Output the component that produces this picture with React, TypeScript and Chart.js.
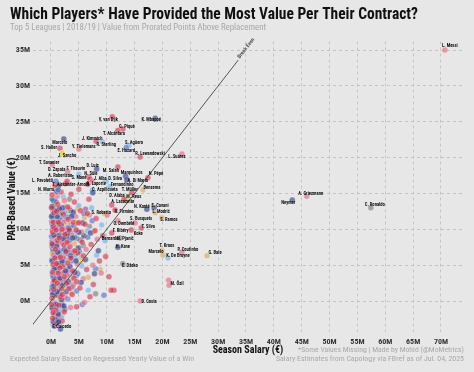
import React, { useEffect, useRef } from "react";
import { Chart, registerables } from "chart.js";
Chart.register(...registerables);

const TITLE = "Which Players* Have Provided the Most Value Per Their Contract?";
const SUBTITLE = "Top 5 Leagues | 2018/19 | Value from Prorated Points Above Replacement";
const X_TITLE = "Season Salary (€)";
const Y_TITLE = "PAR-Based Value (€)";
const FOOT_LEFT = "Expected Salary Based on Regressed Yearly Value of a Win";
const FOOT_RIGHT_1 = "*Some Values Missing | Made by Mohid (@MoMetrics)";
const FOOT_RIGHT_2 = "Salary Estimates from Capology via FBref as of Jul. 04, 2025";
const BREAK_EVEN_LABEL = "Break Even";

const xTickValues = [0, 5, 10, 15, 20, 25, 30, 35, 40, 45, 50, 55, 60, 65, 70];
const yTickValues = [0, 5, 10, 15, 20, 25, 30, 35];
const breakEvenSalary = [-3.4, 33.6];
const breakEvenValue = [-3.4, 33.6];

// Labelled players: salary (M€), PAR-based value (M€), team colour group
const playerNames = [
  "L. Messi", "A. Griezmann", "Neymar", "C. Ronaldo", "K. Mbappé", "V. van Dijk", "G. Piqué", "T. Alcántara",
  "J. Kimmich", "R. Sterling", "Y. Tielemans", "Marcelo", "S. Haller", "J. Sancho", "S. Agüero", "E. Hazard",
  "R. Lewandowski", "L. Suárez", "T. Savanier", "D. Zapata", "F. Thauvin", "D. Luiz", "N. Süle", "M. Salah",
  "Marquinhos", "A. Di María", "N. Pépé", "T. Alexander-Arnold", "A. Robertson", "L. Pavoletti", "S. Mané", "J. Alba",
  "D. Silva", "Fernandinho", "A. Laporte", "C. Azpilicueta", "N. Murru", "Benzema", "T. Müller", "M. Reus",
  "D. Alaba", "A. Lacazette", "N. Kanté", "E. Cavani", "L. Modrić", "S. Ramos", "S. Roberto", "R. Firmino",
  "S. Busquets", "O. Dembélé", "T. Silva", "Koke", "F. Ribéry", "Bernardo", "M. Pjanić", "H. Kane",
  "T. Kroos", "Marcelo", "P. Coutinho", "K. De Bruyne", "G. Bale", "E. Džeko", "M. Özil", "D. Costa",
  "F. Caicedo",
];
const playerSalary = [
  70.7, 45.9, 43.3, 57.4, 18.7, 11.0, 12.9, 12.0,
  8.1, 9.2, 5.0, 2.3, 1.6, 2.0, 14.0, 13.5,
  16.0, 23.5, 0.2, 3.0, 5.0, 8.2, 6.8, 12.0,
  13.4, 13.6, 17.4, 6.6, 2.9, 0.9, 7.0, 7.4,
  9.9, 10.6, 7.4, 7.5, 1.3, 16.5, 14.5, 13.6,
  13.1, 10.9, 17.2, 18.5, 18.7, 19.9, 10.1, 11.5,
  15.1, 12.0, 16.2, 14.4, 10.9, 9.7, 12.4, 12.0,
  19.9, 20.1, 23.5, 21.0, 28.0, 12.9, 21.2, 16.0,
  1.4,
];
const playerValue = [
  35.0, 14.6, 14.1, 13.0, 25.5, 25.7, 24.0, 23.8,
  22.3, 22.2, 21.2, 22.6, 21.3, 20.6, 21.7, 21.4,
  20.1, 20.5, 19.0, 18.0, 17.7, 18.4, 17.3, 18.7,
  17.4, 16.9, 17.2, 16.3, 16.7, 16.7, 17.0, 16.7,
  16.7, 16.0, 15.5, 15.1, 15.5, 15.5, 15.1, 14.2,
  14.2, 13.4, 12.8, 13.0, 12.3, 11.6, 12.0, 12.7,
  10.9, 11.2, 10.2, 9.9, 9.5, 8.4, 8.8, 7.5,
  7.0, 6.4, 6.8, 6.0, 6.3, 5.2, 2.2, 0.0,
  -2.9,
];
const playerGroup = [
  "pink", "pink", "slate", "gray", "slate", "red", "red", "red",
  "red", "sky", "pink", "navy", "red", "yellow", "sky", "blue",
  "red", "pink", "pink", "pink", "sky", "navy", "red", "red",
  "navy", "navy", "red", "red", "red", "blue", "red", "pink",
  "sky", "sky", "sky", "navy", "blue", "gold", "red", "yellow",
  "red", "red", "navy", "navy", "gold", "gold", "pink", "red",
  "pink", "pink", "red", "red", "red", "sky", "gray", "navy",
  "gold", "gold", "pink", "sky", "gold", "gray", "pink", "pink",
  "navy",
];

// Unlabelled players, [salary, value] in M€, grouped by team colour
const redCloud = [
  [0.2, 14.8], [0.5, 12.3], [0.3, 9.6], [0.8, 7.2], [0.4, 5.1], [0.6, 2.8], [0.2, 0.4], [0.9, -1.2], [0.3, -2.4],
  [1.2, 13.5], [1.5, 10.8], [1.1, 8.4], [1.7, 6.1], [1.3, 3.9], [1.9, 1.7], [1.4, -0.6], [2.2, 12.1], [2.5, 9.3],
  [2.1, 4.8], [2.8, 2.5], [2.4, -1.5], [3.1, 11.4], [3.4, 7.6], [3.0, 5.3], [3.8, 0.9], [4.2, 13.8], [4.5, 9.9],
  [4.1, 3.2], [4.8, 6.7], [5.3, 12.6], [5.6, 8.2], [5.2, 1.8], [6.1, 10.7], [6.4, 4.4], [6.8, 14.2], [7.2, 7.9],
  [7.6, 2.3], [8.1, 11.5], [8.7, 5.6], [9.3, 9.1], [9.8, 6.2], [10.4, 3.4], [0.7, 16.1], [1.8, 15.2], [2.6, 16.4],
  [3.6, 14.9], [5.0, 15.6], [11.3, 1.5], [10.8, 1.5], [7.0, 0.6], [4.6, -0.8], [2.0, -2.8], [1.0, -3.2],
  [0.1, 13.0], [0.4, 11.0], [0.6, 10.1], [0.2, 8.0], [0.7, 6.0], [0.3, 4.0], [0.5, 1.6], [0.1, -0.5], [0.4, -1.6],
  [1.0, 12.5], [1.3, 11.0], [0.9, 9.9], [1.5, 8.8], [1.0, 5.2], [1.6, 4.6], [1.1, 2.5], [1.7, 0.6], [2.0, 10.0],
  [2.3, 7.8], [2.7, 6.9], [2.4, 3.4], [2.0, 0.9], [3.0, 13.1], [3.3, 9.9], [2.9, 8.2], [3.6, 6.0], [3.2, 1.7],
  [3.9, 4.2], [4.3, 7.0], [4.0, 11.0], [4.9, 10.9], [4.6, 2.7], [5.8, 6.3], [6.5, 12.2], [7.9, 9.8],
];
const pinkCloud = [
  [0.1, 11.1], [0.6, 8.9], [0.4, 6.4], [0.9, 3.5], [0.3, 1.2], [0.7, -0.4], [1.3, 12.7], [1.6, 9.8], [1.2, 7.5],
  [1.8, 4.9], [1.5, 2.2], [2.3, 11.0], [2.7, 8.1], [2.2, 6.0], [2.9, 3.6], [2.6, 0.5], [3.3, 12.9], [3.7, 9.2],
  [3.2, 4.3], [3.9, 2.0], [4.4, 11.8], [4.7, 5.2], [5.5, 9.6], [5.8, 3.1], [6.3, 7.2], [6.9, 12.0], [7.5, 5.0],
  [8.3, 8.6], [9.0, 3.9], [1.1, 14.6], [2.4, 14.0], [0.5, -1.9], [3.5, -0.9], [6.0, -0.2], [21.1, 2.9],
  [0.2, 9.9], [0.5, 7.6], [0.8, 5.4], [0.4, 2.6], [1.0, 10.5], [1.4, 6.1], [1.9, 8.2], [1.7, 2.9], [2.5, 10.0],
  [2.1, 3.9], [3.0, 9.9], [3.4, 5.9], [4.0, 6.9], [4.2, 3.9], [5.1, 11.0], [0.2, -1.1], [1.2, -2.0],
];
const navyCloud = [
  [0.2, 13.2], [0.4, 10.4], [0.3, 7.8], [0.7, 4.6], [0.5, 2.1], [0.2, -0.9], [0.8, -2.6], [1.1, 11.8], [1.4, 9.1],
  [1.2, 6.8], [1.6, 3.2], [1.9, 0.2], [1.3, -1.8], [2.1, 13.0], [2.4, 7.2], [2.0, 5.5], [2.7, 1.3], [2.3, -0.7],
  [3.2, 10.1], [3.5, 6.3], [3.1, 2.7], [3.9, 8.8], [4.3, 4.0], [4.0, 12.4], [4.9, 7.4], [5.4, 2.6], [5.7, 10.9],
  [6.2, 5.8], [7.1, 9.5], [7.8, 3.8], [8.5, 7.0], [1.0, 15.3], [0.6, -3.5], [1.7, -3.9],
  [0.1, 11.8], [0.5, 9.2], [0.2, 5.6], [0.6, 3.0], [0.3, 0.9], [0.9, -0.5], [0.7, 12.6], [1.0, 7.7], [1.4, 5.0],
  [1.1, 1.3], [1.8, 10.6], [1.5, 12.9], [2.2, 8.7], [2.6, 4.2], [2.1, 2.2], [2.9, 9.4], [3.4, 4.8], [3.7, 11.8],
  [4.5, 5.6], [5.0, 9.6], [0.4, -2.9], [1.2, -3.0],
];
const blueCloud = [
  [0.3, 12.0], [0.1, 9.0], [0.6, 6.0], [0.4, 3.3], [0.8, 0.8], [0.5, -1.5], [1.2, 10.2], [1.5, 7.0], [1.1, 4.2],
  [1.7, 1.0], [2.0, 9.6], [2.3, 3.0], [2.6, 6.6], [2.9, 11.7], [3.3, 8.4], [3.0, 0.3], [3.7, 5.6], [4.1, 10.5],
  [4.6, 1.4], [5.1, 6.9], [5.9, 12.2], [6.6, 8.9], [7.4, 11.2], [8.0, 4.5], [1.4, -2.2], [2.5, -1.1], [0.9, 13.9],
  [5.6, -0.5], [9.5, 0.8],
  [0.2, 14.2], [0.7, 11.0], [0.3, 7.3], [0.9, 5.4], [0.5, 4.5], [0.2, 2.0], [1.3, 8.3], [1.0, 3.0], [1.8, 5.5],
  [1.6, 11.5], [2.2, 6.0], [2.8, 3.9], [3.1, 7.0], [3.6, 1.8], [4.3, 8.9], [4.8, 3.8], [0.6, -2.6], [2.0, -0.6],
];
const skyCloud = [
  [0.4, 11.5], [0.2, 4.0], [0.9, 9.4], [1.3, 1.6], [1.8, 8.0], [2.1, 2.7], [2.8, 10.3], [3.4, 3.7], [3.8, 12.0],
  [4.4, 6.0], [5.0, 13.3], [5.5, 4.9], [6.5, 9.8], [7.3, 13.0], [8.2, 6.4], [9.1, 10.6], [0.7, -0.2], [1.6, -1.3],
  [2.2, 14.5], [6.7, 1.5],
  [0.5, 7.9], [0.1, 5.8], [1.1, 6.8], [1.5, 10.3], [2.4, 5.1], [2.6, 12.3], [3.0, 7.3], [4.1, 9.5], [0.3, 1.0],
  [1.9, -2.3],
];
const goldCloud = [
  [0.3, 10.0], [0.6, 4.3], [1.0, 12.0], [1.4, 5.4], [1.8, 11.2], [2.3, 1.9], [2.7, 13.2], [3.2, 6.4], [3.6, 1.1],
  [4.2, 8.0], [4.8, 12.9], [5.4, 6.1], [6.0, 11.6], [6.7, 3.3], [7.7, 9.7], [8.8, 4.4], [0.5, 0.0], [2.0, -1.9],
  [9.6, 12.2],
  [0.1, 7.6], [0.8, 2.3], [1.2, 9.1], [1.6, 0.2], [2.5, 5.8], [3.0, 10.8], [3.9, 3.0], [4.6, 9.9],
];
const grayCloud = [
  [0.2, 8.3], [0.5, 5.7], [0.9, 1.9], [1.2, 10.7], [1.7, 6.5], [2.4, 12.5], [2.9, 4.7], [3.5, 9.7], [4.0, 2.3],
  [4.7, 8.7], [5.8, 7.7], [6.9, 10.4], [8.0, 1.0], [1.0, -1.0], [3.3, 14.2],
  [0.6, 12.9], [0.3, -0.2], [1.4, 3.1], [2.2, -1.3], [3.8, 6.8],
];
const purpleCloud = [
  [0.4, 7.0], [0.8, 11.7], [1.5, 3.8], [2.1, 8.9], [2.8, 5.9], [3.6, 10.6], [4.4, 3.5], [5.3, 8.5], [6.2, 12.8],
  [1.9, -0.3], [0.2, 10.8], [1.0, 0.8], [2.4, 11.4], [3.2, 2.1],
];
const darkCloud = [
  [0.3, 3.7], [0.7, 9.8], [1.1, 6.3], [1.9, 12.3], [2.5, 4.0], [3.0, 8.9], [4.3, 6.6], [0.6, -2.0], [5.9, 9.1],
  [1.3, 16.0], [0.5, 14.0], [1.6, 2.5], [2.8, 7.0], [0.2, 1.5], [3.5, 12.6],
];
const yellowCloud = [
  [0.2, 6.7], [0.6, 13.6], [1.4, 8.7], [2.2, 10.4], [3.1, 3.0], [4.5, 11.0], [0.9, 0.5], [5.7, 5.5],
];

// ---- styling (kept separate from data) ----
const PALETTE: Record<string, string> = {
  red: "rgba(206,52,78,0.62)",
  pink: "rgba(224,110,134,0.66)",
  navy: "rgba(42,58,135,0.62)",
  blue: "rgba(82,116,195,0.64)",
  sky: "rgba(128,185,235,0.72)",
  gold: "rgba(216,178,112,0.75)",
  gray: "rgba(128,128,128,0.66)",
  slate: "rgba(98,114,160,0.85)",
  purple: "rgba(122,78,155,0.62)",
  dark: "rgba(40,40,50,0.62)",
  yellow: "rgba(236,206,60,0.85)",
};
// label centre offsets in px relative to the point, with optional alignment
const labelPlacement: [number, number, CanvasTextAlign?][] = [
  [5, -4], [4, -3], [-4, 3], [4, -3], [-4, 2], [-4, 3], [4, -2], [-4, 3],
  [-4, -2], [4, 3], [5, -2], [-4, 4], [-3, 0, "right"], [5, 3], [5, -3], [0, 3],
  [10, -3], [-5, 3], [-3, -2], [-11, -2], [-3, -5], [-4, -3], [2, -3], [-7, 4],
  [6, -3], [11, 1], [8, -4], [-17, 1], [-7, -5], [-3, 0, "right"], [-11, -1], [8, -2],
  [9, -2], [12, -1], [4, -6], [12, -3], [-4, 0, "right"], [9, -2], [-2, -3], [7, -2],
  [-7, -3], [11, -3], [-5, -2], [6, -2], [6, -1], [7, 2], [-6, -2], [9, 2],
  [6, -4], [6, 3], [7, -1], [7, 4], [9, -2], [5, -2], [5, 1], [5, 0],
  [5, -5], [-7, -3], [6, -2], [10, -2], [8, -3], [7, 2], [8, -1], [9, 1],
  [3, 5],
];

const COND = "'Liberation Sans Narrow', 'Roboto Condensed', 'DejaVu Sans Condensed', 'Roboto', sans-serif";
const BG = "#e7e7e7";

const toPts = (arr: number[][]) => arr.map(([x, y]) => ({ x, y }));

export default function App() {
  const ref = useRef<HTMLCanvasElement | null>(null);
  useEffect(() => {
    document.body.style.margin = "0";
    document.body.style.background = BG;
    const canvas = ref.current!;
    const clouds: [number[][], string][] = [
      [redCloud, "red"], [navyCloud, "navy"], [pinkCloud, "pink"], [blueCloud, "blue"], [skyCloud, "sky"],
      [goldCloud, "gold"], [grayCloud, "gray"], [purpleCloud, "purple"], [darkCloud, "dark"], [yellowCloud, "yellow"],
    ];
    const pointStyle = {
      pointRadius: 3,
      pointBorderWidth: 0.6,
      pointBorderColor: "rgba(255,255,255,0.5)",
    };
    const datasets: any[] = [
      {
        type: "line",
        data: breakEvenSalary.map((x, i) => ({ x, y: breakEvenValue[i] })),
        borderColor: "#555",
        borderWidth: 1,
        pointRadius: 0,
        showLine: true,
        fill: false,
      },
      {
        data: playerNames.map((_, i) => ({ x: playerSalary[i], y: playerValue[i] })),
        pointBackgroundColor: playerGroup.map((g) => PALETTE[g]),
        ...pointStyle,
      },
      ...clouds.map(([arr, g]) => ({
        data: toPts(arr),
        pointBackgroundColor: PALETTE[g],
        ...pointStyle,
      })),
    ];

    const bgPlugin = {
      id: "bg",
      beforeDraw(chart: any) {
        const c = chart.ctx;
        c.save();
        c.fillStyle = BG;
        c.fillRect(0, 0, chart.width, chart.height);
        c.restore();
      },
    };
    const labelPlugin = {
      id: "labels",
      afterDatasetsDraw(chart: any) {
        const c = chart.ctx;
        const xs = chart.scales.x;
        const ys = chart.scales.y;
        c.save();
        c.fillStyle = "#111";
        c.font = `bold 4.6px ${COND}`;
        c.textBaseline = "middle";
        playerNames.forEach((name, i) => {
          const px = xs.getPixelForValue(playerSalary[i]);
          const py = ys.getPixelForValue(playerValue[i]);
          const [dx, dy, al] = labelPlacement[i];
          c.textAlign = al || "center";
          c.fillText(name, px + dx, py + dy);
        });
        // break-even label along the line
        const x1 = xs.getPixelForValue(breakEvenSalary[1]);
        const y1 = ys.getPixelForValue(breakEvenValue[1]);
        const x0 = xs.getPixelForValue(breakEvenSalary[0]);
        const y0 = ys.getPixelForValue(breakEvenValue[0]);
        const ang = Math.atan2(y1 - y0, x1 - x0);
        c.translate(x1, y1);
        c.rotate(ang);
        c.fillStyle = "#555";
        c.font = `bold 5.5px ${COND}`;
        c.textAlign = "left";
        c.fillText(BREAK_EVEN_LABEL, 2, -1);
        c.restore();
      },
    };
    const textPlugin = {
      id: "texts",
      afterDraw(chart: any) {
        const c = chart.ctx;
        c.save();
        c.textBaseline = "middle";
        c.textAlign = "left";
        c.fillStyle = "#111";
        c.font = `bold 16px ${COND}`;
        c.fillText(TITLE, 10, 15, 408);
        c.fillStyle = "#a8a8a8";
        c.font = `9px ${COND}`;
        c.fillText(SUBTITLE, 10, 28, 256);
        c.fillStyle = "#a9a9a9";
        c.font = `8px ${COND}`;
        c.fillText(FOOT_LEFT, 10, 359, 184);
        c.textAlign = "right";
        c.fillText(FOOT_RIGHT_1, 464, 350, 166);
        c.fillText(FOOT_RIGHT_2, 464, 359, 188);
        // y-axis title
        c.translate(12.5, 199);
        c.rotate(-Math.PI / 2);
        c.textAlign = "center";
        c.fillStyle = "#111";
        c.font = `bold 10px ${COND}`;
        c.fillText(Y_TITLE, 0, 0);
        c.restore();
      },
    };

    const chart = new Chart(canvas, {
      type: "scatter",
      data: { datasets },
      options: {
        animation: false,
        responsive: false,
        devicePixelRatio: 1,
        layout: { padding: { left: 10, right: 11, top: 41.5, bottom: 16 } },
        plugins: {
          legend: { display: false },
          tooltip: { enabled: false },
          title: { display: false },
        },
        scales: {
          x: {
            type: "linear",
            min: -3.23,
            max: 73.95,
            afterBuildTicks: (axis: any) => {
              axis.ticks = xTickValues.map((v) => ({ value: v }));
            },
            afterFit: (scale: any) => {
              scale.height = 24;
            },
            ticks: {
              callback: (v: any) => `${v}M`,
              color: "#333",
              font: { family: COND, size: 8, weight: "bold" },
              padding: 5,
              maxRotation: 0,
              autoSkip: false,
            },
            grid: { color: "#bdbdbd", lineWidth: 0.8, drawTicks: false },
            border: { display: false, dash: [3, 3] },
            title: {
              display: true,
              text: X_TITLE,
              color: "#111",
              font: { family: COND, size: 10, weight: "bold", lineHeight: 1.2 },
              padding: { top: 0, bottom: 0 },
            },
          },
          y: {
            type: "linear",
            min: -4.32,
            max: 36.2,
            afterBuildTicks: (axis: any) => {
              axis.ticks = yTickValues.map((v) => ({ value: v }));
            },
            afterFit: (scale: any) => {
              scale.width = 23;
            },
            ticks: {
              callback: (v: any) => `${v}M`,
              color: "#333",
              font: { family: COND, size: 8, weight: "bold" },
              padding: 3,
              autoSkip: false,
            },
            grid: { color: "#bdbdbd", lineWidth: 0.8, drawTicks: false },
            border: { display: false, dash: [3, 3] },
            title: { display: false },
          },
        },
      },
      plugins: [bgPlugin, labelPlugin, textPlugin],
    } as any);
    return () => chart.destroy();
  }, []);

  return (
    <div style={{ width: 474, height: 372, background: BG }}>
      <canvas ref={ref} width={474} height={372} style={{ display: "block", width: 474, height: 372 }} />
    </div>
  );
}
